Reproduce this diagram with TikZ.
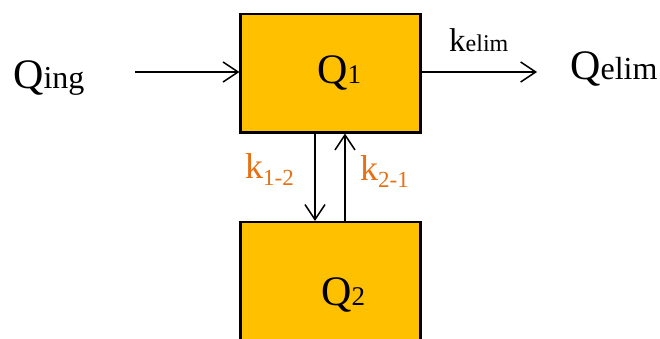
\documentclass[tikz,border=0pt]{standalone}
\usepackage{fontspec}
\setmainfont{Liberation Serif}
\newfontfamily\timesfont{Liberation Serif}
\usepackage{tikz}
\usetikzlibrary{arrows.meta}

\definecolor{compfill}{RGB}{255,192,0}
\definecolor{rateorange}{RGB}{230,112,20}

\newcommand{\qname}[2]{{\fontsize{42}{42}\selectfont Q}{\fontsize{#2}{#2}\selectfont #1}}
\newcommand{\krate}[1]{{\fontsize{36}{36}\selectfont k}\raisebox{-7pt}{\fontsize{23}{23}\selectfont #1}}

\begin{document}
\begin{tikzpicture}[x=1pt,y=-1pt,
	comp/.style={draw=black,line width=2.2pt,fill=compfill,minimum width=180pt,minimum height=118.5pt,inner sep=0pt},
	txt/.style={anchor=base west,inner sep=0pt,font=\timesfont},
	flow/.style={line width=1.5pt,-{Straight Barb[length=15pt,width=20pt,line width=1.5pt]}}]
	\useasboundingbox (0,0) rectangle (660,338);
	% compartments
	\node[comp] (q1) at (330.5,73.25) {};
	\node[comp] (q2) at (330.5,281.25) {};
	\node[txt] (q1txt) at (317,83) {\qname{1}{27}};
	\node[txt] (q2txt) at (321,305) {\qname{2}{27}};
	% input and elimination
	\node[txt] (qing) at (13,88) {\qname{ing}{32}};
	\node[txt] (qelim) at (570,79) {\qname{elim}{32}};
	\coordinate (ingstart) at (135,72);
	\coordinate (elimend) at (537,72);
	\draw[flow] (ingstart) -- (q1.west |- ingstart);
	\draw[flow] (q1.east |- elimend) -- (elimend);
	\node[txt] (kelim) at (449,51) {{\fontsize{33}{33}\selectfont k}{\fontsize{24}{24}\selectfont elim}};
	% exchange between compartments
	\draw[flow] ([xshift=-15.5pt]q1.south) -- ([xshift=-15.5pt]q2.north);
	\draw[flow] ([xshift=14.5pt]q2.north) -- ([xshift=14.5pt]q1.south);
	\node[txt,text=rateorange] (k12) at (245,178) {\krate{1-2}};
	\node[txt,text=rateorange] (k21) at (360,180) {\krate{2-1}};
\end{tikzpicture}
\end{document}
